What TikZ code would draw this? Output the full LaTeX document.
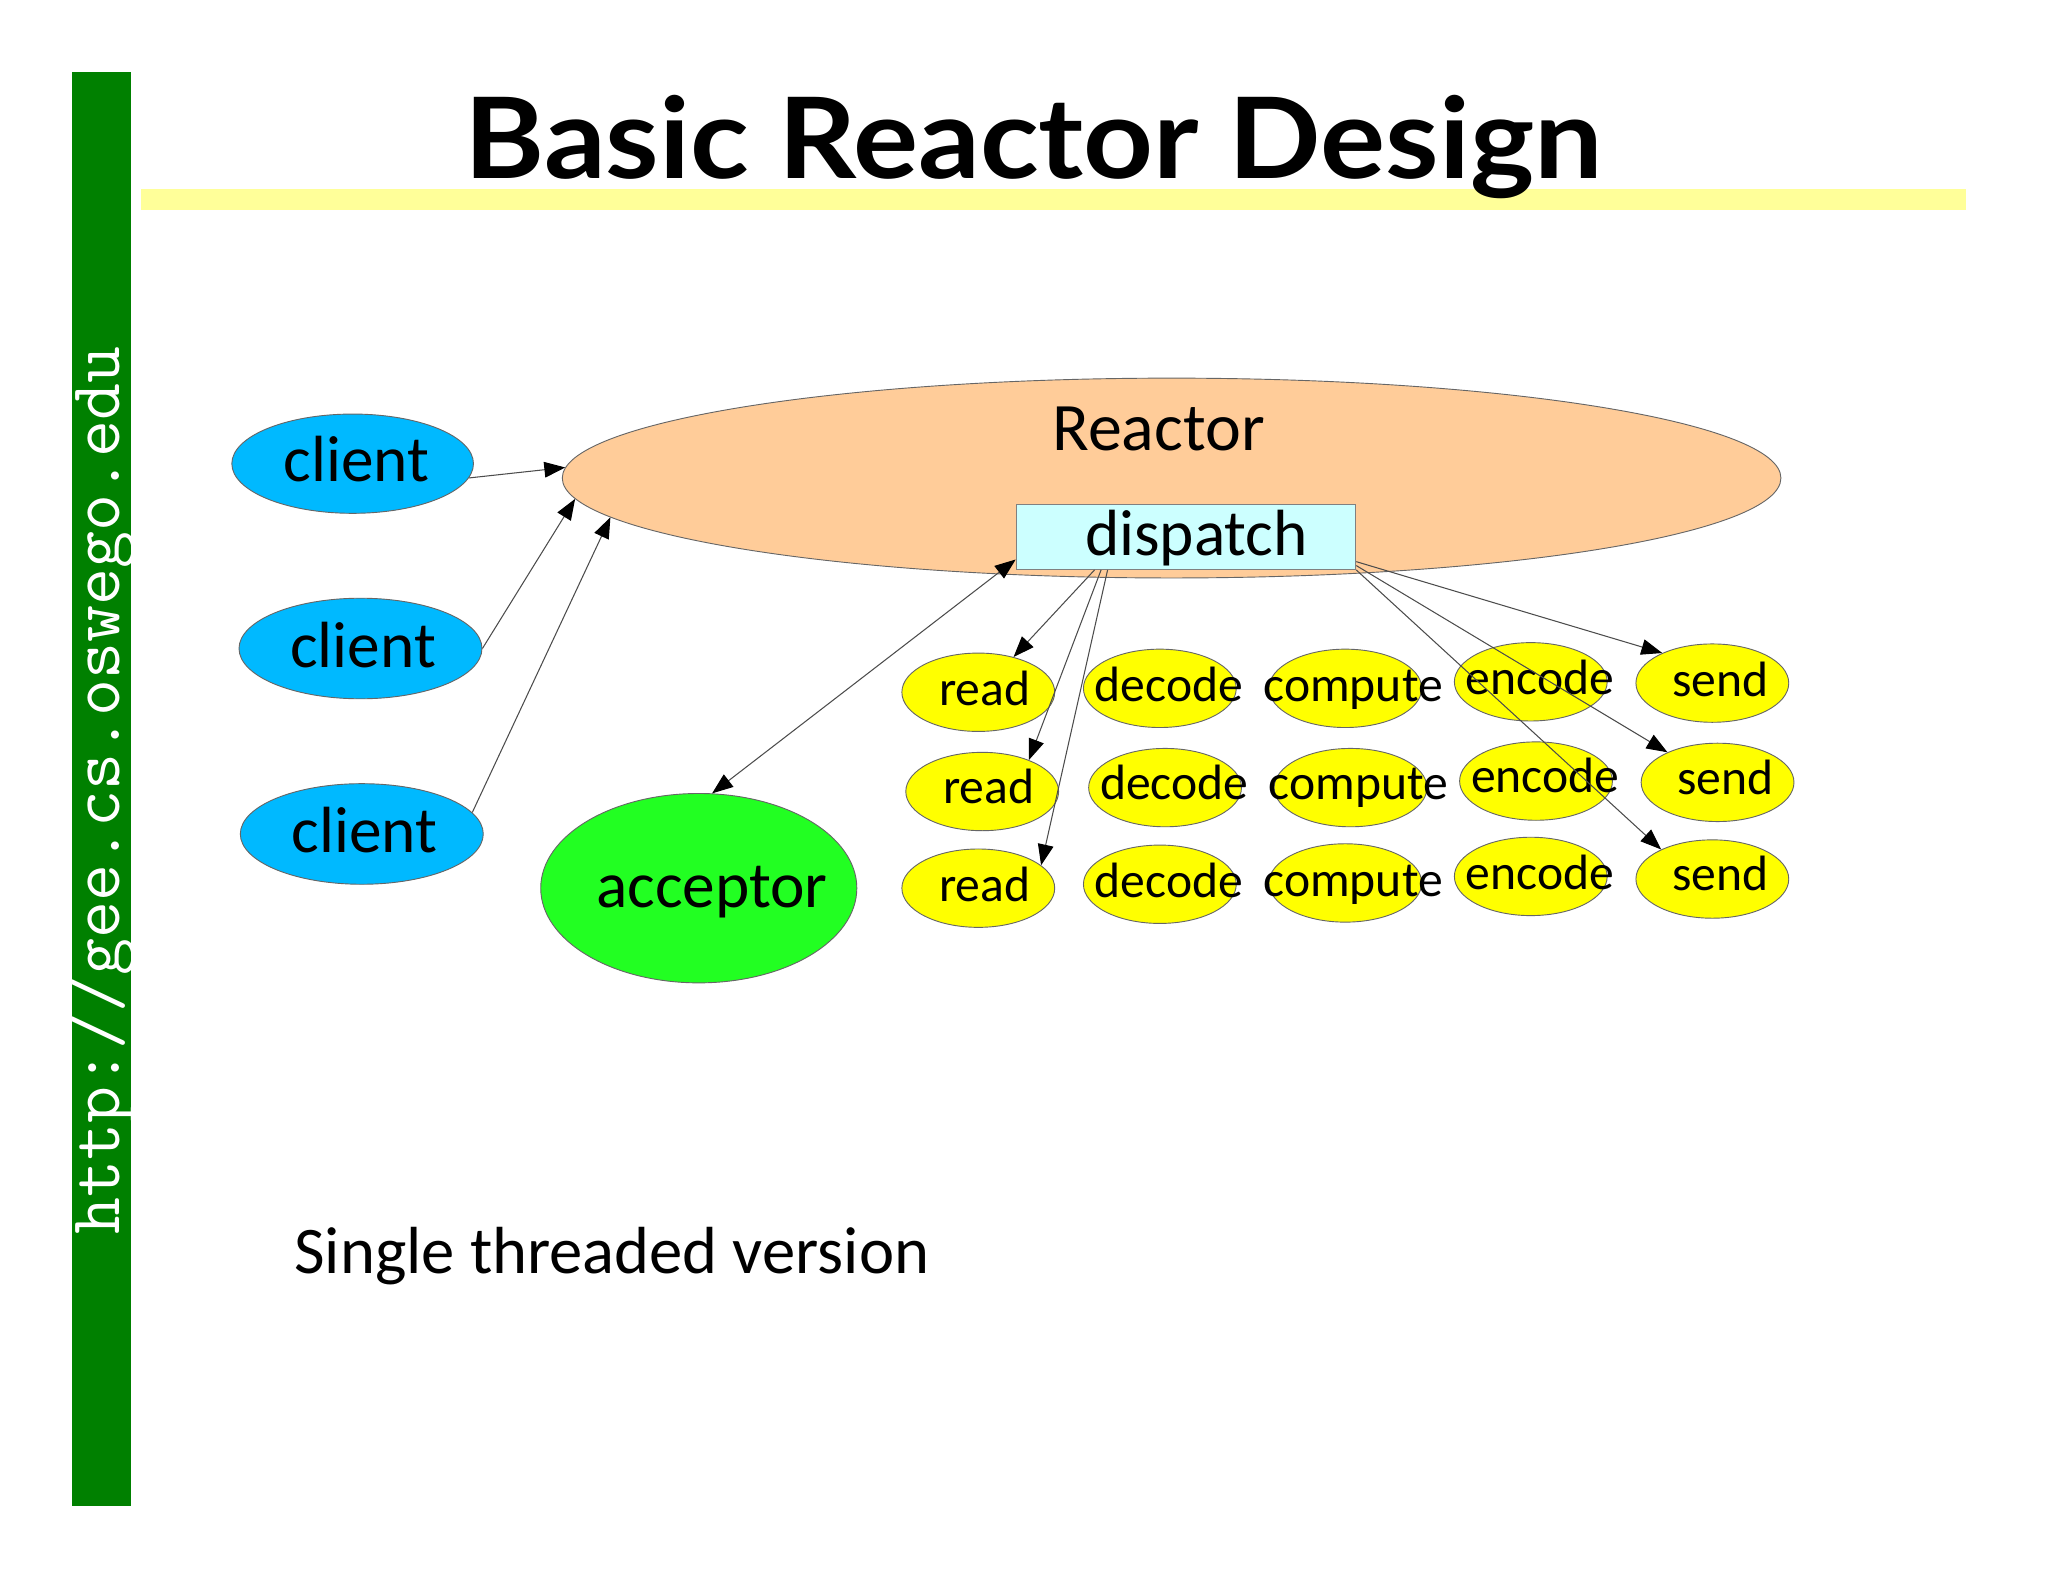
\documentclass[tikz,border=0pt]{standalone}
\usepackage{fontspec}
\setmainfont{Carlito}
\newfontfamily\titlefont{Lato}
\usetikzlibrary{shapes.geometric,arrows.meta}
\definecolor{barGreen}{RGB}{0,128,0}
\definecolor{barYellow}{RGB}{255,255,153}
\definecolor{reactorFill}{RGB}{255,204,153}
\definecolor{dispFill}{RGB}{204,255,255}
\definecolor{clientBlue}{RGB}{0,185,255}
\definecolor{accGreen}{RGB}{34,255,34}
\definecolor{ellYellow}{RGB}{255,255,0}
\begin{document}
\begin{tikzpicture}[x=0.5pt,y=-0.5pt,
  ell/.style={ellipse, draw=black!60, line width=0.35pt, inner sep=0pt},
  yel/.style={ell, fill=ellYellow, minimum width=58.5pt, minimum height=30pt},
  cli/.style={ell, fill=clientBlue, minimum width=92.5pt, minimum height=38pt},
  txt/.style={anchor=base, inner sep=0pt},
  bigtxt/.style={txt, font=\fontsize{25}{30}\selectfont},
  smalltxt/.style={txt, font=\fontsize{19}{23}\selectfont},
  arr/.style={draw=black!70, line width=0.4pt, -{Triangle[length=8pt,width=6pt,black]}},
  darr/.style={draw=black!70, line width=0.4pt, {Triangle[length=8pt,width=6pt,black]}-{Triangle[length=8pt,width=6pt,black]}}
]
\useasboundingbox[fill=white] (0,0) rectangle (1568,1211);
% side bar and title bar
\fill[barGreen] (55,55) rectangle (100,1153);
\node[rotate=90, text=white, inner sep=0pt, font=\ttfamily\fontsize{27.5}{30}\selectfont] (url) at (79,605) {http://gee.cs.oswego.edu};
\fill[barYellow] (108,145) rectangle (1505,161);
\node[txt, font=\titlefont\bfseries\fontsize{43}{50}\selectfont] (title) at (791.5,137) {\scalebox{1.085}[1]{Basic Reactor Design}};

% reactor
\node[ell, fill=reactorFill, minimum width=466.5pt, minimum height=76.5pt] (reactor) at (897,366) {};
\node[bigtxt, font=\fontsize{26}{30}\selectfont] (reactorT) at (887,345) {Reactor};
\node[draw=black!50, line width=0.35pt, fill=dispFill, minimum width=130pt, minimum height=25pt, inner sep=0pt] (dispatch) at (908,411) {};
\node[bigtxt] (dispatchT) at (916,425) {dispatch};

% clients
\node[cli] (c1) at (270,355) {};
\node[bigtxt] (c1t) at (273,369) {client};
\node[cli, minimum width=93pt, minimum height=38.5pt] (c2) at (276,496.5) {};
\node[bigtxt] (c2t) at (278,511) {client};
\node[cli, minimum width=93pt, minimum height=38.5pt] (c3) at (277,638.5) {};
\node[bigtxt] (c3t) at (279,653) {client};

% acceptor
\node[ell, fill=accGreen, minimum width=121pt, minimum height=72.5pt] (acc) at (535,680) {};
\node[bigtxt] (acct) at (545,695) {acceptor};

% handler grid
\node[yel] (r1) at (749,530) {};
\node[smalltxt] (r1t) at (754,540) {read};
\node[yel] (d1) at (888,527) {};
\node[smalltxt] (d1t) at (895,537) {decode};
\node[yel] (p1) at (1030,527) {};
\node[smalltxt] (p1t) at (1036,537) {compute};
\node[yel] (e1) at (1172,522) {};
\node[smalltxt] (e1t) at (1179,532) {encode};
\node[yel] (s1) at (1311,523) {};
\node[smalltxt] (s1t) at (1317,533) {send};

\node[yel] (r2) at (752,606) {};
\node[smalltxt] (r2t) at (757,615) {read};
\node[yel] (d2) at (892,603) {};
\node[smalltxt] (d2t) at (899,612) {decode};
\node[yel] (p2) at (1034,603) {};
\node[smalltxt] (p2t) at (1040,612) {compute};
\node[yel] (e2) at (1176,598) {};
\node[smalltxt] (e2t) at (1183,607) {encode};
\node[yel] (s2) at (1315,599) {};
\node[smalltxt] (s2t) at (1321,608) {send};

\node[yel] (r3) at (749,680) {};
\node[smalltxt] (r3t) at (754,690) {read};
\node[yel] (d3) at (888,677) {};
\node[smalltxt] (d3t) at (895,687) {decode};
\node[yel] (p3) at (1030,676) {};
\node[smalltxt] (p3t) at (1036,686) {compute};
\node[yel] (e3) at (1172,671) {};
\node[smalltxt] (e3t) at (1179,681) {encode};
\node[yel] (s3) at (1311,673) {};
\node[smalltxt] (s3t) at (1317,682) {send};

% caption
\node[bigtxt, anchor=base west, font=\fontsize{25.5}{30}\selectfont] (caption) at (225,975) {Single threaded version};

% connectors
\draw[arr] (c1.353) -- (reactor.179);
\draw[arr] (c2.east) -- (reactor.182.5);
\draw[arr] (c3.11) -- (reactor.184.2);
\draw[darr] (acc.82) -- ([yshift=4pt]dispatch.south west);
\draw[arr] ([xshift=-35pt]dispatch.south) -- (r1.45);
\draw[arr] ([xshift=-32.5pt]dispatch.south) -- (r2.34);
\draw[arr] ([xshift=-30pt]dispatch.south) -- (r3.20);
\draw[arr] ([yshift=-9.5pt]dispatch.east) -- (s1.149);
\draw[arr] ([yshift=-11pt]dispatch.east) -- (s2.149);
\draw[arr] (dispatch.south east) -- (s3.150);
\end{tikzpicture}
\end{document}
